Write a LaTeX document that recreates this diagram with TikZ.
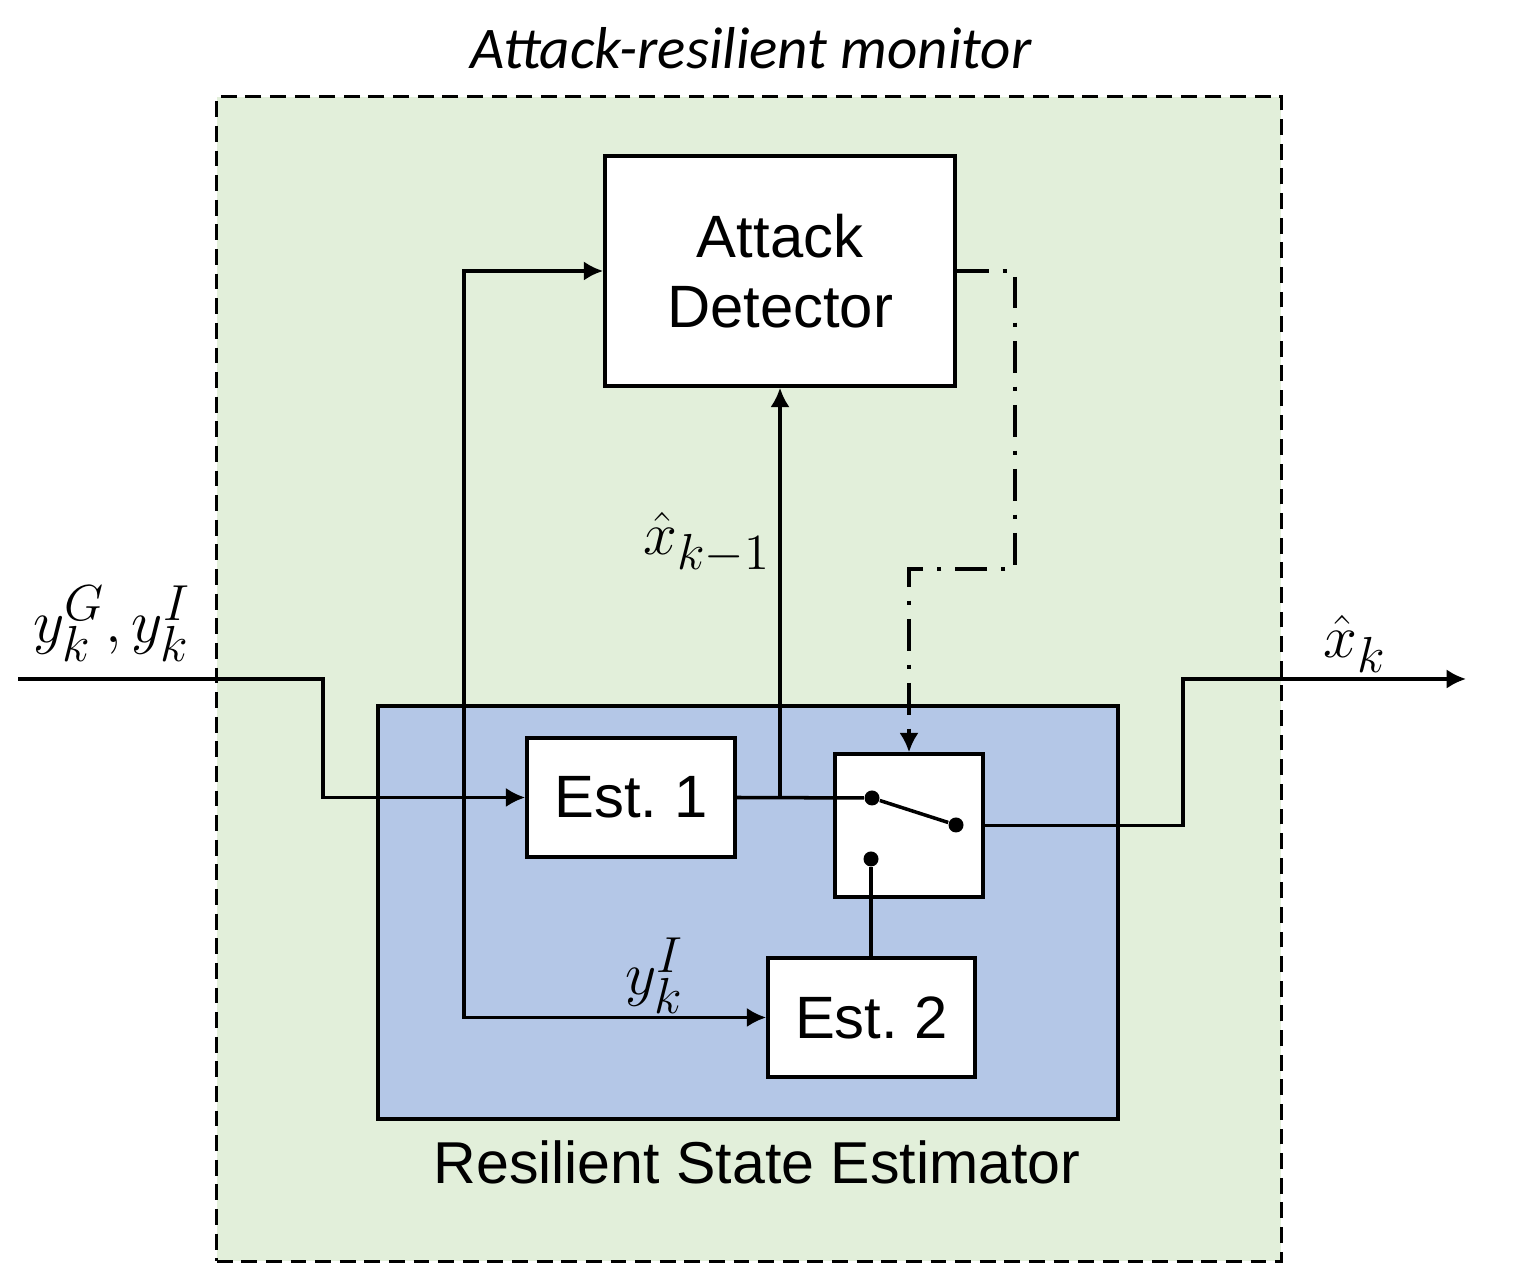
\documentclass[tikz,border=0pt]{standalone}
\usepackage{fontspec}
\setmainfont{Liberation Sans}
\newfontfamily\titlefont{Carlito}
\usetikzlibrary{arrows.meta}
\definecolor{mongreen}{HTML}{E2EFDA}
\definecolor{estblue}{HTML}{B4C7E7}

\begin{document}
\begin{tikzpicture}[x=0.01cm,y=-0.01cm]
    \tikzstyle{blk}=[draw=black,fill=white,line width=1pt,inner sep=0pt,font=\fontsize{17}{20}\selectfont]
    \tikzstyle{dot}=[circle,fill=black,inner sep=0pt,minimum size=0.15cm]
    \tikzstyle{fwd}=[draw=black,line width=1pt]
    \tikzstyle{tip}=[-{Latex[length=5.5pt,width=5.5pt]}]
    \tikzstyle{tips}=[{Latex[length=5.5pt,width=5.5pt]}-{Latex[length=5.5pt,width=5.5pt]}]
    \tikzstyle{ctrl}=[fwd,dash pattern=on 9pt off 4pt on 1.2pt off 4pt]
    \tikzstyle{lbl}=[font=\fontsize{19}{22}\selectfont]

    \useasboundingbox (0,0) rectangle (1518,1280);

    \node[draw=black,fill=mongreen,line width=1pt,dash pattern=on 4.5pt off 2.5pt,
          minimum width=10.64cm,minimum height=11.64cm,inner sep=0pt] (mon) at (749,679) {};
    \node[draw=black,fill=estblue,line width=1pt,
          minimum width=7.4cm,minimum height=4.13cm,inner sep=0pt] (rse) at (748,912.5) {};

    \node[font=\titlefont\itshape\fontsize{16.8}{20}\selectfont] (tmon) at (751,48) {Attack-resilient monitor};
    \node[font=\fontsize{16.8}{20}\selectfont] (trse) at (757,1162) {Resilient State Estimator};

    \node[blk,minimum width=3.5cm,minimum height=2.3cm,align=center] (det) at (780,271) {Attack\\Detector};
    \node[blk,minimum width=2.08cm,minimum height=1.19cm] (est1) at (631,797.5) {Est.~1};
    \node[blk,minimum width=2.07cm,minimum height=1.19cm] (est2) at (871.5,1017.5) {Est.~2};
    \node[blk,minimum width=1.48cm,minimum height=1.43cm] (sw) at (909,825.5) {};

    \node[dot] (sa) at (872,798) {};
    \node[dot] (sb) at (956,825) {};
    \node[dot] (sc) at (871,859) {};

    \coordinate (in) at (18,679);
    \coordinate (b1) at (323,679);
    \coordinate (b2) at (464,600);
    \coordinate (b3) at (1183,750);
    \coordinate (out) at (1466,679);
    \coordinate (b4) at (1015,569);

    \draw [fwd,tip] (in) -- (b1) |- (est1.west);
    \draw [fwd,tips] (det.west) -| (b2) |- (est2.west);
    \draw [fwd] (est1.east) -- (sa);
    \draw [fwd,tip] (est1.east -| det.south) -- (det.south);
    \draw [fwd] (sa) -- (sb);
    \draw [fwd] (sc) -- (sc |- est2.north);
    \draw [fwd,tip] (sw.east) -| (b3) |- (out);
    \draw [ctrl,tip] (det.east) -| (b4) -| (sw.north);

    \node[lbl] (yin) at (112,624) {$y_k^G, y_k^I$};
    \node[lbl] (xprev) at (707,543) {$\hat{x}_{k-1}$};
    \node[lbl] (xout) at (1355,644) {$\hat{x}_k$};
    \node[lbl] (yi) at (655,976) {$y_k^I$};
\end{tikzpicture}
\end{document}
